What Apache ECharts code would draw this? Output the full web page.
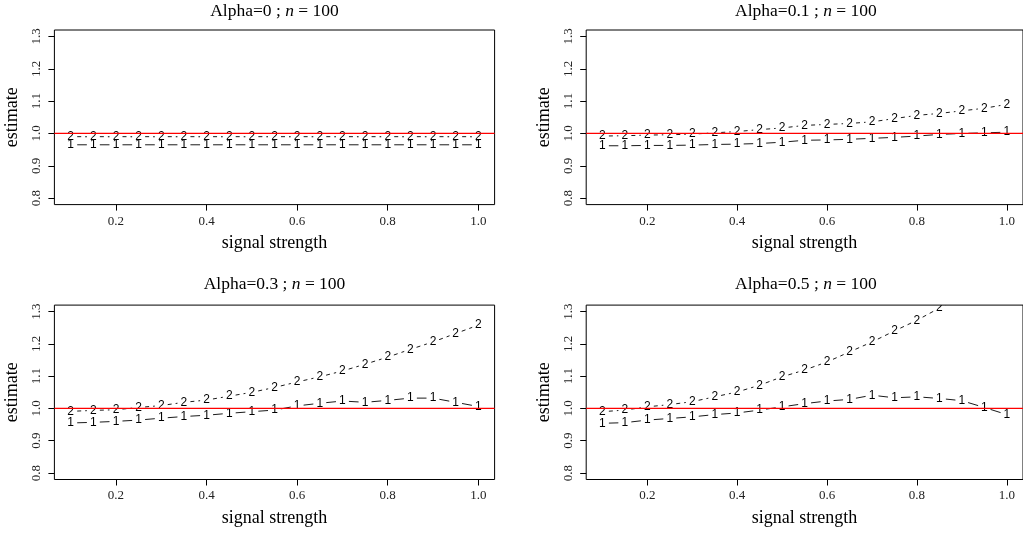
<!DOCTYPE html>
<html>
<head>
<meta charset="utf-8">
<script src="https://cdn.jsdelivr.net/npm/echarts@6/dist/echarts.min.js"></script>
<style>
html,body{margin:0;padding:0;background:#fff;}
#chart{width:1023px;height:533px;}
</style>
</head>
<body>
<div id="chart"></div>
<script>
// ---- data ----
const signal = [0.10,0.15,0.20,0.25,0.30,0.35,0.40,0.45,0.50,0.55,0.60,0.65,0.70,0.75,0.80,0.85,0.90,0.95,1.00];
const xTicks = [0.2,0.4,0.6,0.8,1.0];
const yTicks = [0.8,0.9,1.0,1.1,1.2,1.3];
const xLimits = [0.064, 1.036];
const yLimits = [0.78, 1.32];
const refLine = 1.0;
const panelAlpha = ['0','0.1','0.3','0.5'];
const panelN = '100';

const alpha0_est1   = [0.965,0.965,0.965,0.965,0.965,0.965,0.965,0.965,0.965,0.965,0.965,0.965,0.965,0.965,0.965,0.965,0.965,0.965,0.965];
const alpha0_est2   = [0.990,0.990,0.990,0.990,0.990,0.990,0.990,0.990,0.990,0.990,0.990,0.990,0.990,0.990,0.990,0.990,0.990,0.990,0.990];
const alpha01_est1  = [0.962,0.962,0.963,0.963,0.964,0.966,0.967,0.969,0.973,0.979,0.980,0.982,0.985,0.988,0.992,0.997,1.000,1.002,1.004];
const alpha01_est2  = [0.992,0.993,0.995,0.996,0.998,1.002,1.006,1.012,1.017,1.025,1.028,1.031,1.036,1.046,1.056,1.062,1.070,1.078,1.090];
const alpha03_est1  = [0.955,0.957,0.960,0.964,0.970,0.975,0.979,0.985,0.990,0.995,1.008,1.016,1.023,1.019,1.025,1.032,1.032,1.019,1.006];
const alpha03_est2  = [0.991,0.994,0.996,1.003,1.009,1.019,1.026,1.038,1.050,1.065,1.082,1.098,1.116,1.137,1.159,1.183,1.206,1.232,1.258];
const alpha05_est1  = [0.954,0.956,0.964,0.969,0.974,0.981,0.986,0.995,1.005,1.015,1.023,1.028,1.041,1.033,1.036,1.031,1.024,1.003,0.981];
const alpha05_est2  = [0.990,0.995,1.005,1.012,1.021,1.036,1.051,1.072,1.098,1.119,1.144,1.175,1.206,1.240,1.273,1.311,1.350,1.390,1.430];

const panels = [
  [alpha0_est1, alpha0_est2],
  [alpha01_est1, alpha01_est2],
  [alpha03_est1, alpha03_est2],
  [alpha05_est1, alpha05_est2]
];

// ---- layout ----
const SERIF = '"Liberation Serif", "Times New Roman", serif';
const SANS = '"Liberation Sans", Arial, sans-serif';
const grids = [
  {left: 54.4, top: 30.0, width: 440.2, height: 174.6},
  {left: 586.2, top: 30.0, width: 439.4, height: 174.6},
  {left: 54.4, top: 305.1, width: 440.2, height: 174.4},
  {left: 586.2, top: 305.1, width: 439.4, height: 174.4}
];
const titleTops = [2, 2, 275, 275];

function makeRender(xs, ys, label, dash) {
  const gap = 6.5;
  return function (params, api) {
    const i = params.dataIndex;
    const p = api.coord([xs[i], ys[i]]);
    const children = [{
      type: 'text',
      style: {text: label, x: p[0], y: p[1], align: 'center', verticalAlign: 'middle',
              font: '12px ' + SANS, fill: '#000'}
    }];
    if (i < xs.length - 1) {
      const q = api.coord([xs[i + 1], ys[i + 1]]);
      const dx = q[0] - p[0], dy = q[1] - p[1];
      const len = Math.sqrt(dx * dx + dy * dy);
      if (len > 2 * gap) {
        const ux = dx / len, uy = dy / len;
        children.push({
          type: 'line',
          shape: {x1: p[0] + ux * gap, y1: p[1] + uy * gap, x2: q[0] - ux * gap, y2: q[1] - uy * gap},
          style: {stroke: '#000', lineWidth: 0.9, lineDash: dash}
        });
      }
    }
    return {type: 'group', children: children};
  };
}

const option = {
  animation: false,
  backgroundColor: '#fff',
  title: [],
  grid: [],
  xAxis: [],
  yAxis: [],
  series: []
};

grids.forEach((g, k) => {
  option.grid.push(Object.assign({show: true, borderColor: '#000', borderWidth: 1, backgroundColor: 'transparent', containLabel: false}, g));
  option.title.push({
    text: 'Alpha=' + panelAlpha[k] + ' ; {i|n} = ' + panelN,
    left: g.left + g.width / 2,
    top: titleTops[k],
    textAlign: 'center',
    padding: 0,
    textStyle: {fontFamily: SERIF, fontSize: 17.5, fontWeight: 'normal', color: '#000',
      rich: {i: {fontFamily: SERIF, fontSize: 17.5, fontStyle: 'italic', color: '#000'}}}
  });
  option.xAxis.push({
    type: 'value', gridIndex: k, min: xLimits[0], max: xLimits[1],
    name: 'signal strength', nameLocation: 'middle', nameGap: 30,
    nameTextStyle: {fontFamily: SERIF, fontSize: 18, color: '#000'},
    axisLine: {show: false},
    splitLine: {show: false},
    axisTick: {show: true, inside: false, length: 6, customValues: xTicks, lineStyle: {color: '#000', width: 1}},
    axisLabel: {show: true, margin: 10, customValues: xTicks, fontFamily: SERIF, fontSize: 13, color: '#222',
      formatter: v => v.toFixed(1)}
  });
  option.yAxis.push({
    type: 'value', gridIndex: k, min: yLimits[0], max: yLimits[1],
    name: 'estimate', nameLocation: 'middle', nameGap: 33,
    nameTextStyle: {fontFamily: SERIF, fontSize: 18, color: '#000'},
    axisLine: {show: false},
    splitLine: {show: false},
    axisTick: {show: true, inside: false, length: 6, customValues: yTicks, lineStyle: {color: '#000', width: 1}},
    axisLabel: {show: true, margin: 11, rotate: 90, customValues: yTicks, fontFamily: SERIF, fontSize: 13, color: '#222',
      formatter: v => v.toFixed(1)}
  });
  const [e1, e2] = panels[k];
  [[e1, '1', null], [e2, '2', [4, 4]]].forEach(([ys, lab, dash]) => {
    option.series.push({
      type: 'custom', xAxisIndex: k, yAxisIndex: k, clip: true, silent: true, z: 2,
      data: signal.map((x, i) => [x, ys[i]]),
      renderItem: makeRender(signal, ys, lab, dash)
    });
  });
  option.series.push({
    type: 'line', xAxisIndex: k, yAxisIndex: k, silent: true, z: 10, zlevel: 0,
    symbol: 'none', clip: true,
    data: xLimits.map(x => [x, refLine]),
    lineStyle: {color: '#ff0000', width: 1.2, opacity: 1},
    itemStyle: {color: '#ff0000'},
    emphasis: {disabled: true}
  });
});

const chart = echarts.init(document.getElementById('chart'), null, {renderer: 'canvas'});
chart.setOption(option);
</script>
</body>
</html>
